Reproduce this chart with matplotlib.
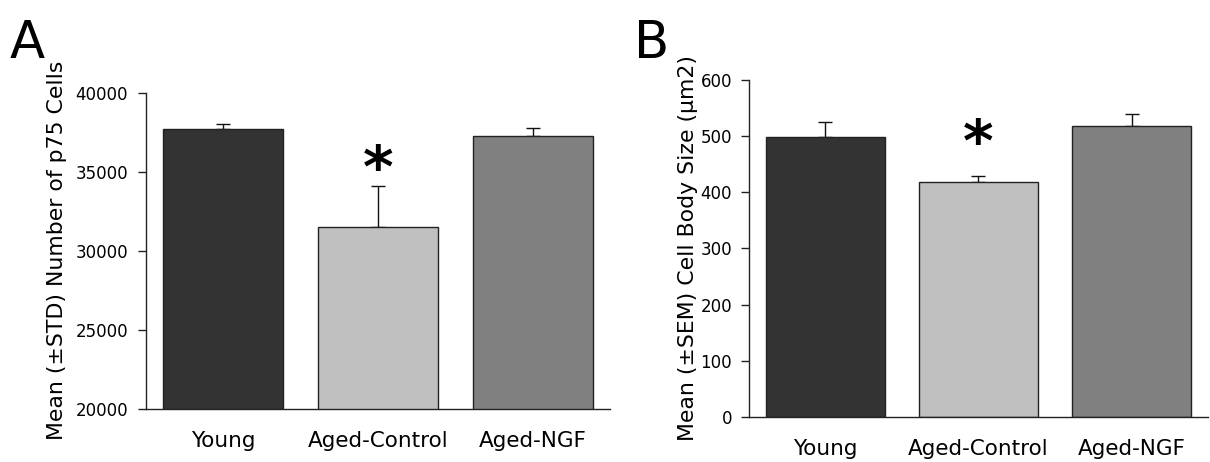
import matplotlib.pyplot as plt

groups = ["Young", "Aged-Control", "Aged-NGF"]
colors = ["#333333", "#c0c0c0", "#808080"]

# panel A: number of p75 cells, mean and STD
cells_mean = [37700, 31480, 37280]
cells_std = [320, 2630, 500]

# panel B: cell body size, mean and SEM
size_mean = [497, 418, 518]
size_sem = [27, 10, 21]


def bar_panel(ax, means, errs, ylim, yticks, ylabel, star_y, tick_pad):
    x = range(len(groups))
    ax.bar(x, means, width=0.775, color=colors, edgecolor="#222222",
           linewidth=1.0, zorder=2)
    # one-sided error bars (upper only)
    ax.errorbar(x, means, yerr=[[0] * len(errs), errs], fmt="none",
                ecolor="#111111", elinewidth=1.0, capsize=5, capthick=1.0,
                zorder=1)
    ax.text(1, star_y, "*", ha="center", va="center", fontsize=42,
            fontweight="bold")
    ax.set_xlim(-0.5, 2.5)
    ax.set_ylim(*ylim)
    ax.set_yticks(yticks)
    ax.set_xticks(list(x))
    ax.set_xticklabels(groups, fontsize=15.5)
    ax.tick_params(axis="x", length=0, pad=16)
    ax.tick_params(axis="y", direction="out", length=6, width=1.0,
                   labelsize=12, pad=tick_pad, color="#222222")
    for s in ["top", "right"]:
        ax.spines[s].set_visible(False)
    for s in ["left", "bottom"]:
        ax.spines[s].set_linewidth(1.0)
        ax.spines[s].set_color("#222222")
    ax.set_ylabel(ylabel, fontsize=15.8)


fig = plt.figure(figsize=(12.1, 4.62), dpi=100)

axA = fig.add_axes([0.1207, 0.1154, 0.3835, 0.684])
bar_panel(axA, cells_mean, cells_std, (20000, 40000),
          [20000, 25000, 30000, 35000, 40000],
          "Mean (±STD) Number of p75 Cells", 35100, 7)
axA.yaxis.set_label_coords(-0.171, 0.5)

axB = fig.add_axes([0.6188, 0.0974, 0.3796, 0.7305])
bar_panel(axB, size_mean, size_sem, (0, 600),
          [0, 100, 200, 300, 400, 500, 600],
          "Mean (±SEM) Cell Body Size (μm2)", 485, 6)
axB.yaxis.set_label_coords(-0.11, 0.5)

fig.text(0.008, 0.875, "A", fontsize=37)
fig.text(0.524, 0.875, "B", fontsize=37)

fig.savefig("out.png", dpi=100)
